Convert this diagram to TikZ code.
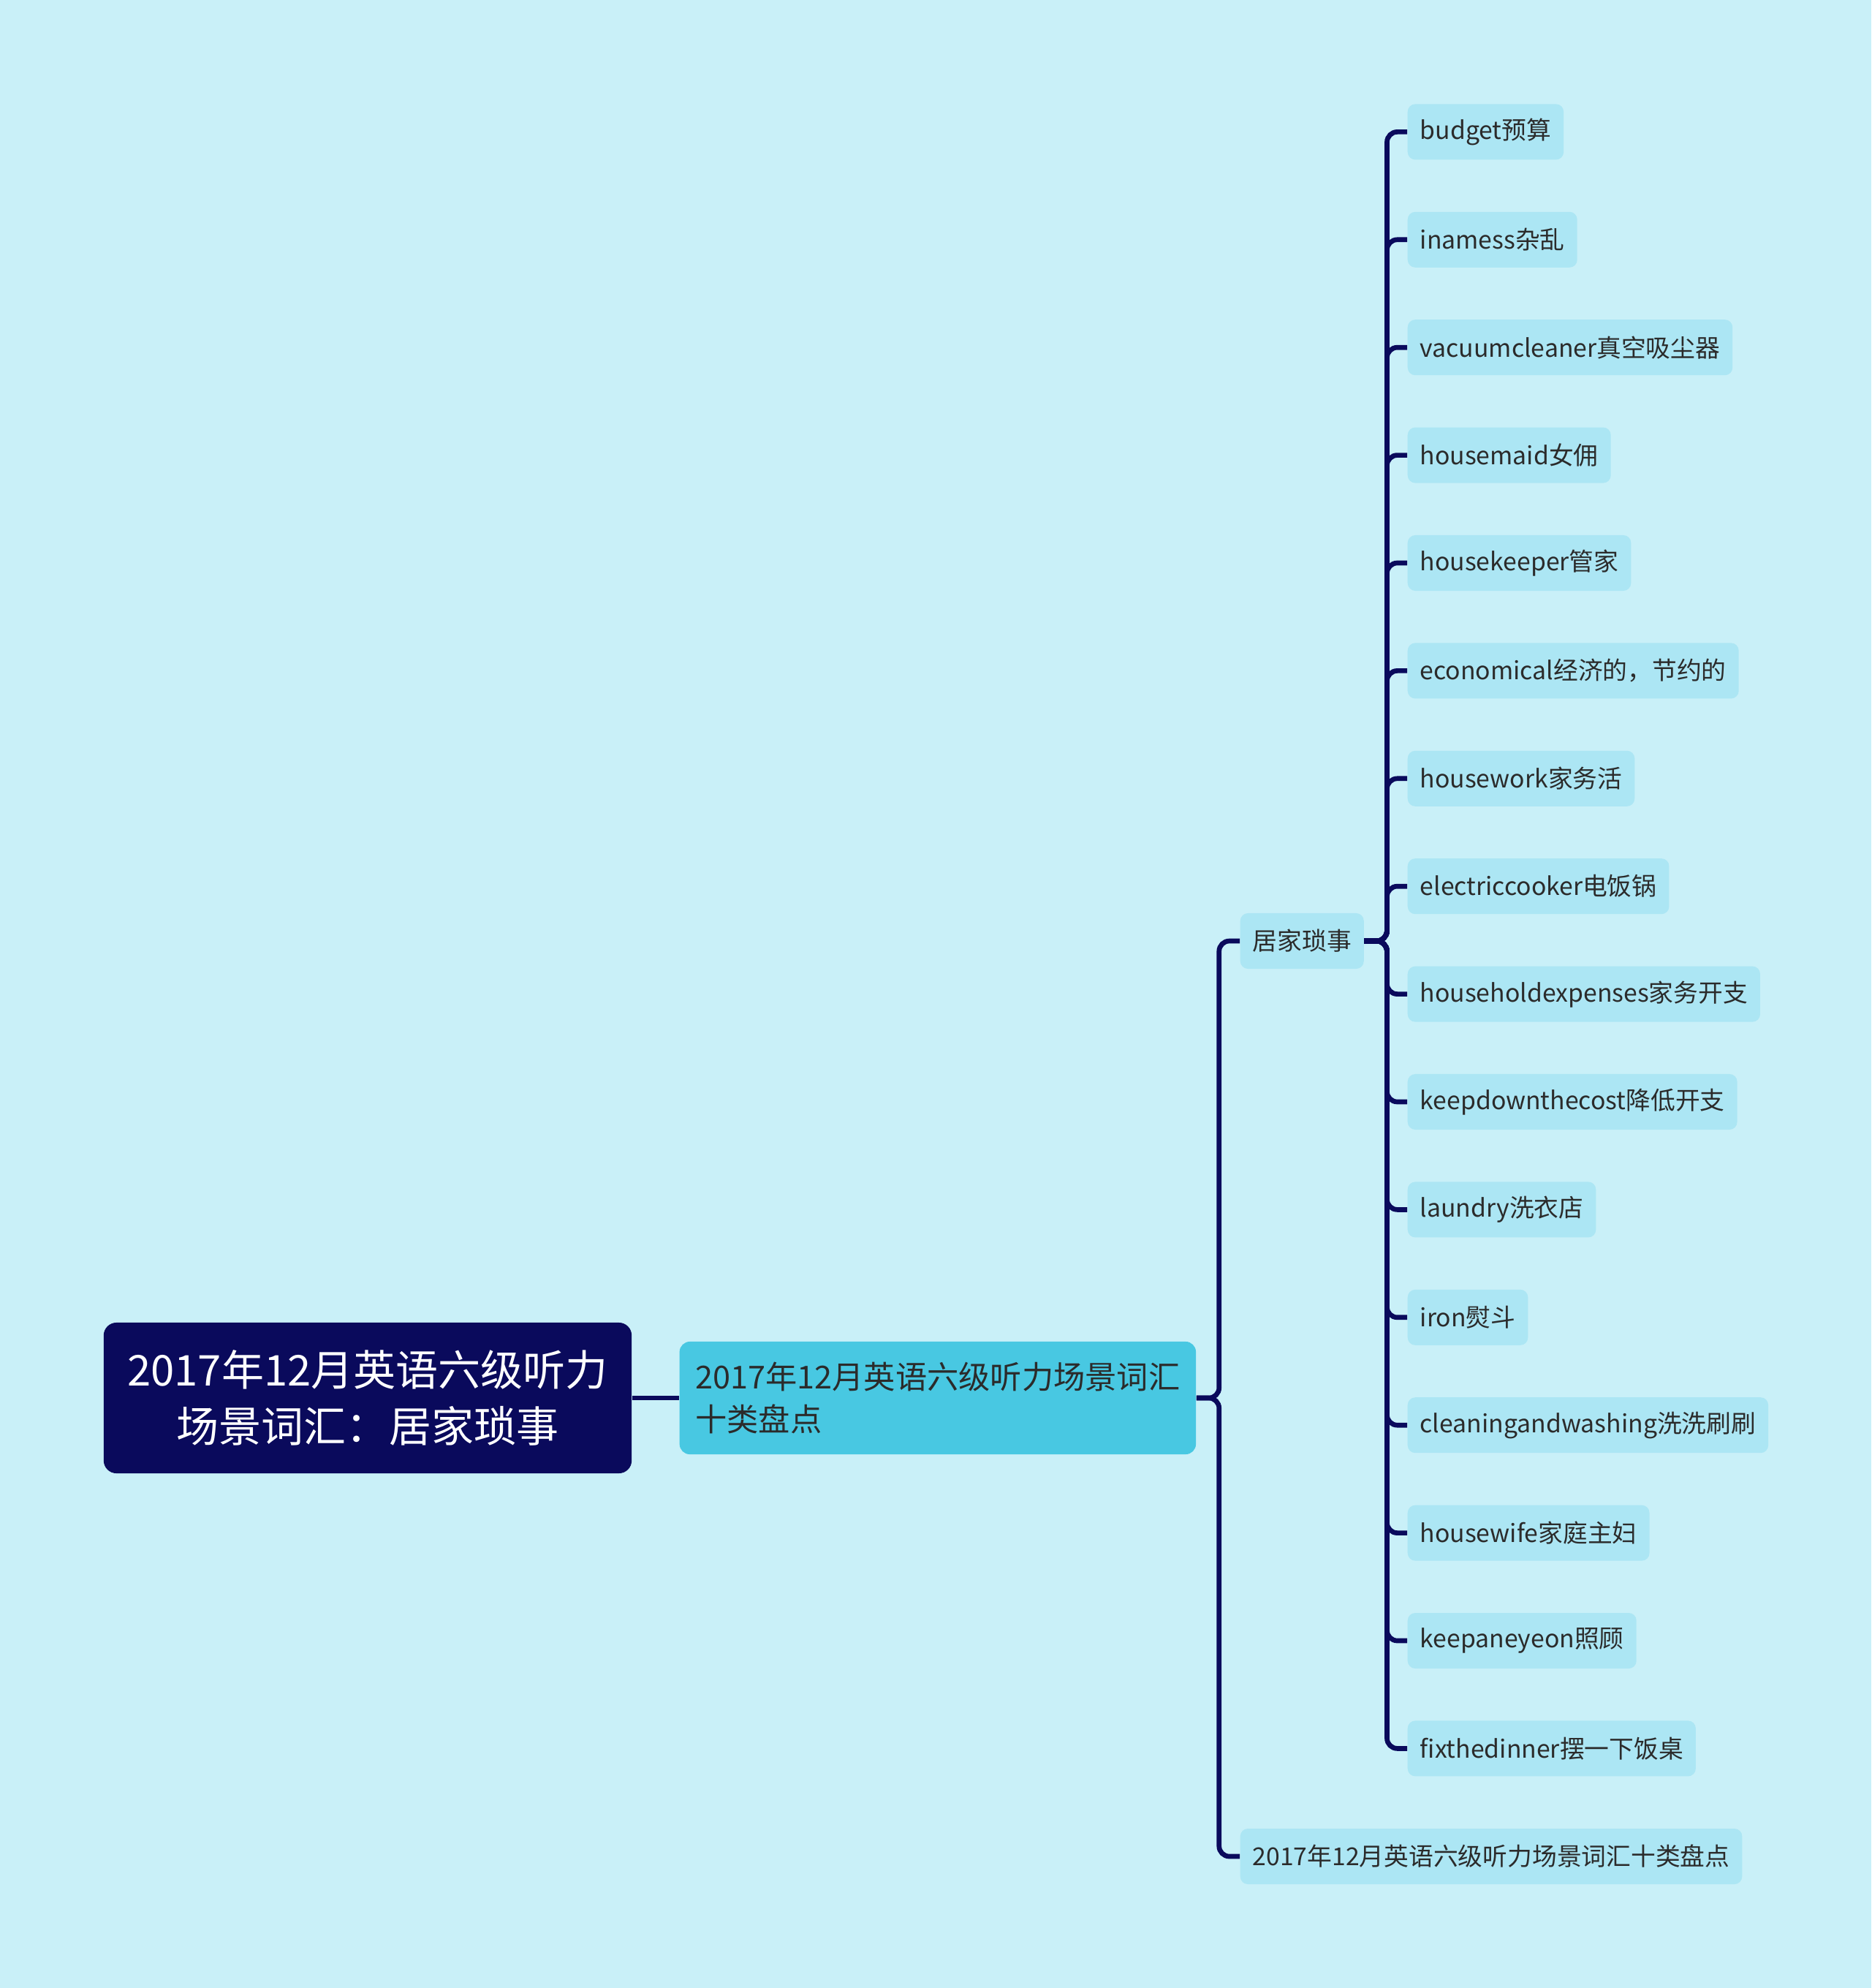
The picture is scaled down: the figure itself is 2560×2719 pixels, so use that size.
\documentclass[tikz,border=0pt]{standalone}
\usepackage{fontspec}
\setmainfont{Noto Sans CJK SC}
\usetikzlibrary{positioning}
\definecolor{bgcyan}{HTML}{C9F0F8}
\definecolor{navy}{HTML}{0A0A5C}
\definecolor{topicblue}{HTML}{48C8E2}
\definecolor{leafcyan}{HTML}{ACE6F4}
\definecolor{inkgray}{HTML}{2B2B2B}

\begin{document}
\begin{tikzpicture}[
    x=0.01cm, y=-0.01cm,
    rootbox/.style={fill=navy, text=white, rounded corners=5pt, align=center, minimum width=7.22cm, minimum height=2.06cm, font=\fontsize{16.5}{22}\selectfont},
    topicbox/.style={fill=topicblue, text=inkgray, rounded corners=4pt, align=left, minimum width=7.06cm, minimum height=1.54cm, font=\fontsize{12.3}{16.3}\selectfont},
    leafbox/.style={fill=leafcyan, text=inkgray, rounded corners=3pt, inner xsep=0.17cm, minimum height=0.76cm, font=\fontsize{9.6}{12}\selectfont},
    link/.style={draw=navy, line width=1.9pt, rounded corners=4pt}
]

% background
\fill[bgcyan] (0,0) rectangle (2560,2719);

\node[rootbox] (root) at (503,1912) {2017年12月英语六级听力\\场景词汇：居家琐事};
\node[topicbox, right=0.64cm of root] (topic) {2017年12月英语六级听力场景词汇\\十类盘点};

\node[leafbox, anchor=west] (hub) at (1696,1287) {居家琐事};
\node[leafbox, anchor=west] (summary) at (1696,2539) {2017年12月英语六级听力场景词汇十类盘点};

\foreach \word [count=\i from 0] in {budget预算, inamess杂乱, vacuumcleaner真空吸尘器, housemaid女佣, housekeeper管家, economical经济的，节约的, housework家务活, electriccooker电饭锅, householdexpenses家务开支, keepdownthecost降低开支, laundry洗衣店, iron熨斗, cleaningandwashing洗洗刷刷, housewife家庭主妇, keepaneyeon照顾, fixthedinner摆一下饭桌}
    \node[leafbox, anchor=west] (leaf\i) at (1925,{180.4+147.4*\i}) {\word};

\draw[link] (root.east) -- (topic.west);
\draw[link] (topic.east) -- ++(31,0) |- (hub.west);
\draw[link] (topic.east) -- ++(31,0) |- (summary.west);
\foreach \i in {0,...,15}
    \draw[link] (hub.east) -- ++(31,0) |- (leaf\i.west);

\end{tikzpicture}
\end{document}
